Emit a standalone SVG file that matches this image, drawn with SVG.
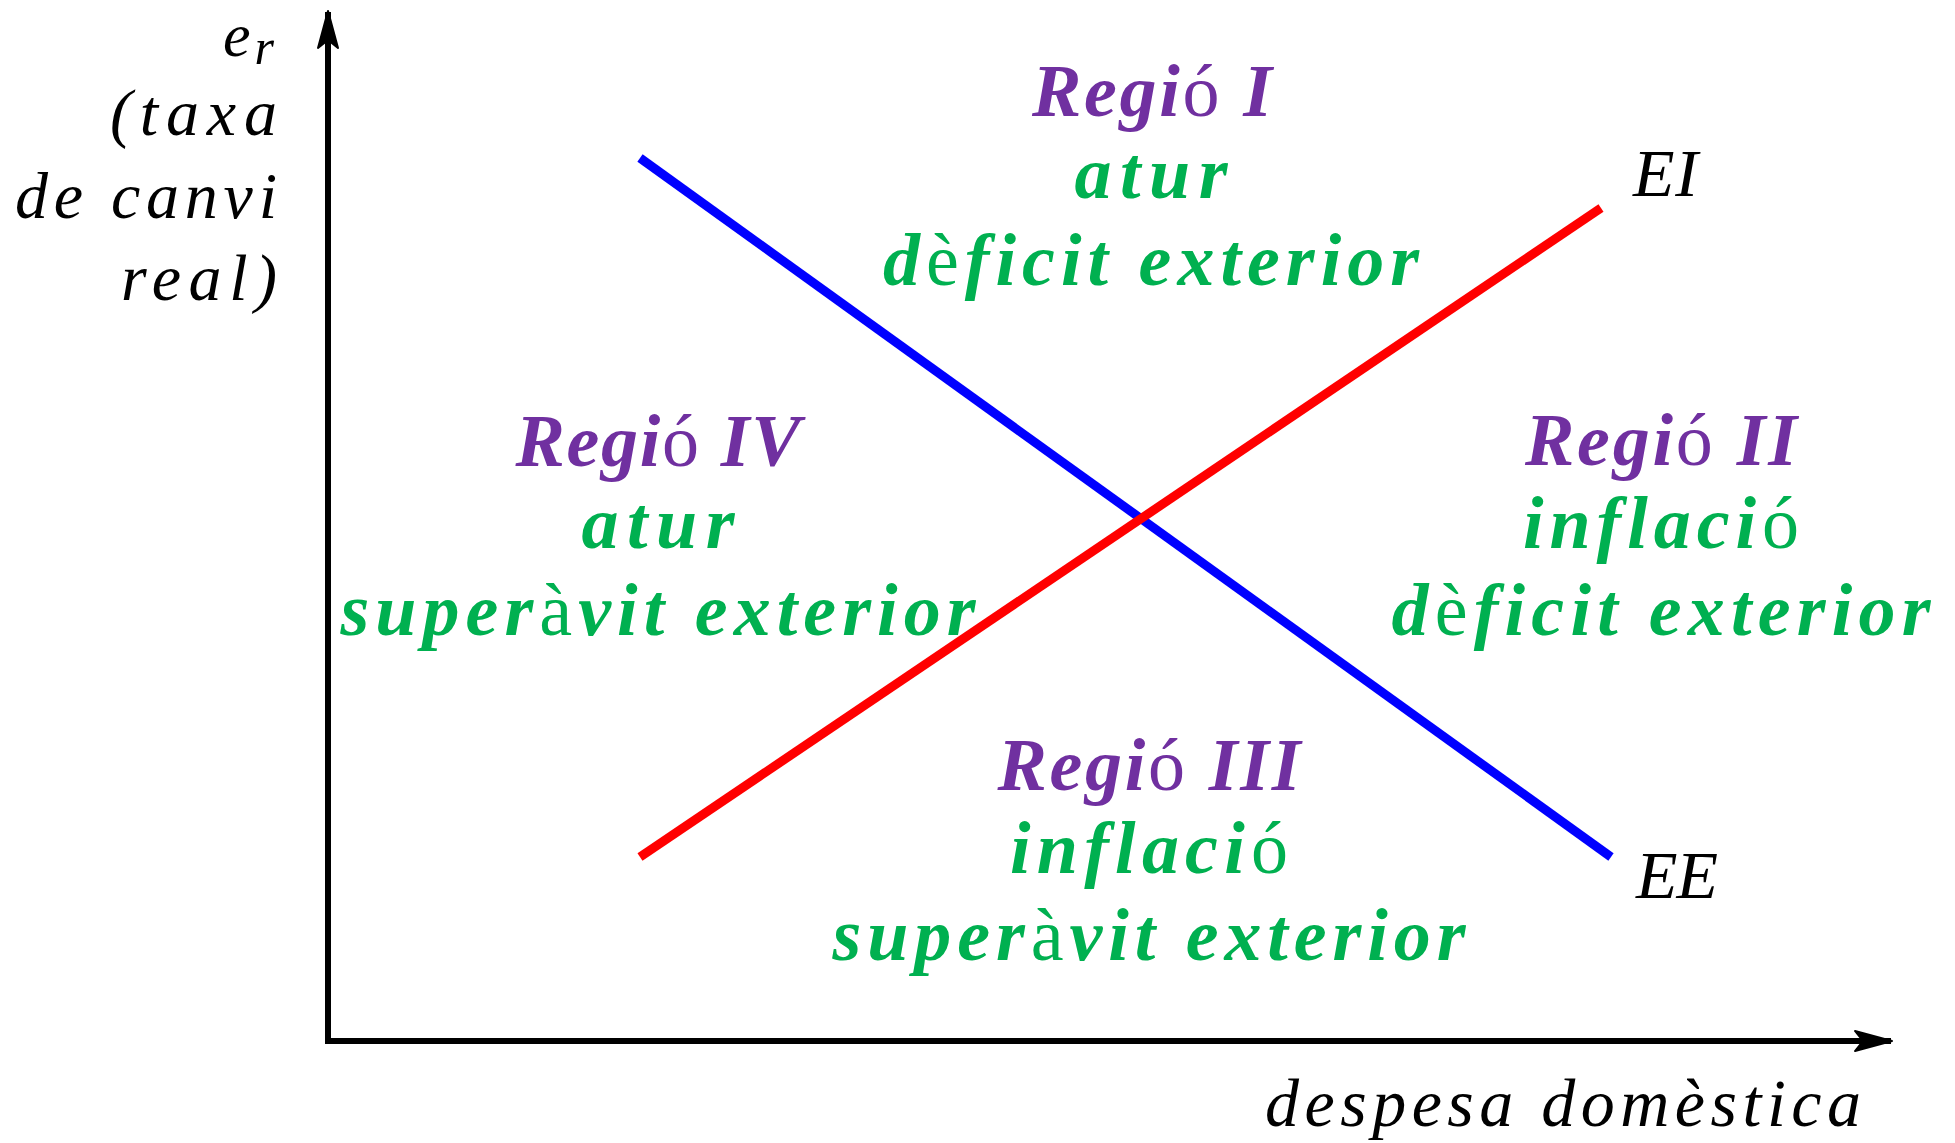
<svg xmlns="http://www.w3.org/2000/svg" width="1955" height="1143" viewBox="0 0 1955 1143">
<style>
  text { font-family: "Liberation Serif", "DejaVu Serif", serif; font-style: italic; }
  .lbl { font-size: 66px; fill: #000; }
  .big { font-size: 68px; fill: #000; }
  .reg { font-size: 74px; font-weight: bold; text-anchor: middle; }
  .pur { fill: #7030A0; }
  .grn { fill: #00B050; }
  .up { font-style: normal; font-weight: normal; }
  .axis { stroke: #000; stroke-width: 6; fill: none; }
</style>
<defs>
  <marker id="arr" viewBox="-2 -2 42 26" refX="37" refY="11" markerWidth="42" markerHeight="26" markerUnits="userSpaceOnUse" orient="auto">
    <path d="M1,1 L38,11 L1,21 L9,11 Z" fill="#000" stroke="#000" stroke-width="2" stroke-linejoin="round"/>
  </marker>
</defs>
<rect width="1955" height="1143" fill="#fff"/>
<g id="connectors">
  <line class="axis" x1="328" y1="1044" x2="328" y2="12" marker-end="url(#arr)"/>
  <line class="axis" x1="325" y1="1041" x2="1891" y2="1041" marker-end="url(#arr)"/>
  <line id="EE-line" x1="640" y1="158" x2="1611" y2="857" stroke="#0000FF" stroke-width="9"/>
  <line id="EI-line" x1="640" y1="857" x2="1601" y2="208" stroke="#FF0000" stroke-width="9"/>
</g>
<g id="y-label" class="lbl">
  <text x="223" y="56" font-size="62">e<tspan font-size="50" dx="4" dy="8">r</tspan></text>
  <text x="110" y="135" textLength="167" lengthAdjust="spacing">(taxa</text>
  <text x="15" y="218" textLength="262" lengthAdjust="spacing">de canvi</text>
  <text x="121" y="300" textLength="156" lengthAdjust="spacing">real)</text>
</g>
<g id="x-label">
  <text class="big" x="1265" y="1126" textLength="596" lengthAdjust="spacing">despesa domèstica</text>
</g>
<g id="EI">
  <text class="big" x="1633" y="196" textLength="65" lengthAdjust="spacing">EI</text>
</g>
<g id="EE">
  <text class="big" x="1636" y="898" textLength="82" lengthAdjust="spacing">EE</text>
</g>
<g id="region-I">
  <text class="reg pur" x="1152" y="116" textLength="240" lengthAdjust="spacing">Regi<tspan class="up">ó</tspan> I</text>
  <text class="reg grn" x="1151" y="198" textLength="153" lengthAdjust="spacing">atur</text>
  <text class="reg grn" x="1151" y="285" textLength="536" lengthAdjust="spacing">d<tspan class="up">è</tspan>ficit exterior</text>
</g>
<g id="region-II">
  <text class="reg pur" x="1661" y="465" textLength="272" lengthAdjust="spacing">Regi<tspan class="up">ó</tspan> II</text>
  <text class="reg grn" x="1661" y="548" textLength="276" lengthAdjust="spacing">inflaci<tspan class="up">ó</tspan></text>
  <text class="reg grn" x="1661" y="635" textLength="539" lengthAdjust="spacing">d<tspan class="up">è</tspan>ficit exterior</text>
</g>
<g id="region-III">
  <text class="reg pur" x="1149" y="790" textLength="303" lengthAdjust="spacing">Regi<tspan class="up">ó</tspan> III</text>
  <text class="reg grn" x="1149" y="873" textLength="278" lengthAdjust="spacing">inflaci<tspan class="up">ó</tspan></text>
  <text class="reg grn" x="1149" y="960" textLength="633" lengthAdjust="spacing">super<tspan class="up">à</tspan>vit exterior</text>
</g>
<g id="region-IV">
  <text class="reg pur" x="658" y="466" textLength="285" lengthAdjust="spacing">Regi<tspan class="up">ó</tspan> IV</text>
  <text class="reg grn" x="658" y="548" textLength="153" lengthAdjust="spacing">atur</text>
  <text class="reg grn" x="658" y="635" textLength="635" lengthAdjust="spacing">super<tspan class="up">à</tspan>vit exterior</text>
</g>
</svg>
